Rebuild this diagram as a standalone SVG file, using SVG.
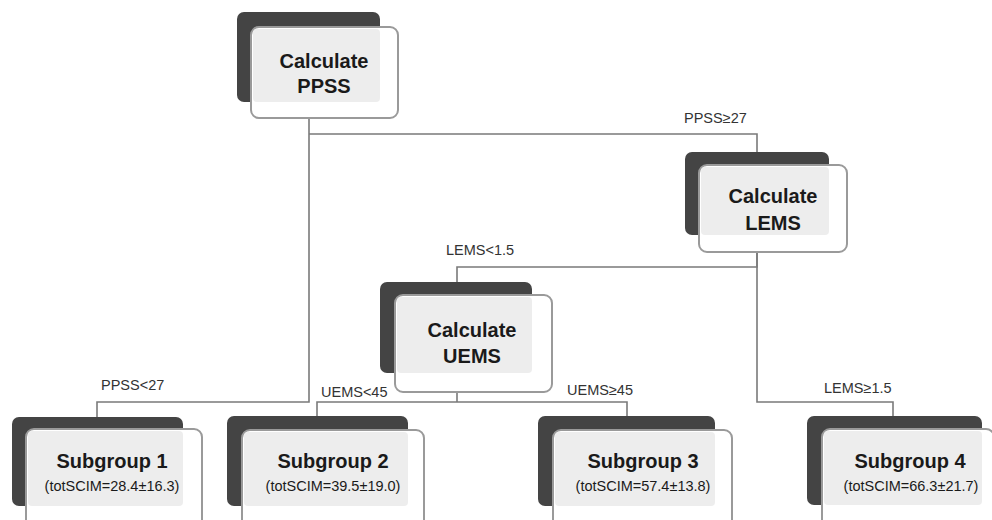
<svg xmlns="http://www.w3.org/2000/svg" width="992" height="520" viewBox="0 0 992 520">
<style>
.dark{fill:#444444;}
.front{fill:#ffffff;stroke:#9a9a9a;stroke-width:2;}
.shade{fill:#ededed;}
.title{font-family:"Liberation Sans",Arial,sans-serif;font-weight:bold;font-size:20px;fill:#1a1a1a;text-anchor:middle;}
.sub{font-family:"Liberation Sans",Arial,sans-serif;font-size:14.5px;fill:#1a1a1a;text-anchor:middle;}
.lbl{font-family:"Liberation Sans",Arial,sans-serif;font-size:14.5px;fill:#333333;}
.conn{fill:none;stroke:#7a7a7a;stroke-width:1.6;}
</style>
<rect width="992" height="520" fill="#ffffff"/>
<g id="connectors">
<path class="conn" d="M309,118 V402 H97 V417"/>
<path class="conn" d="M309,134 H757 V152"/>
<path class="conn" d="M757,252 V267 H457 V282"/>
<path class="conn" d="M757,252 V402 H893 V416"/>
<path class="conn" d="M457,392 V402"/>
<path class="conn" d="M317,416 V402 H627 V416"/>
<text class="lbl" x="684" y="123">PPSS≥27</text>
<text class="lbl" x="446" y="255">LEMS&lt;1.5</text>
<text class="lbl" x="101" y="390">PPSS&lt;27</text>
<text class="lbl" x="321" y="397">UEMS&lt;45</text>
<text class="lbl" x="567" y="395">UEMS≥45</text>
<text class="lbl" x="824" y="393">LEMS≥1.5</text>
</g>
<g id="ppss">
<rect class="dark" x="237" y="12" width="143" height="90" rx="7"/>
<rect class="front" x="251" y="27" width="147" height="91" rx="8"/>
<rect class="shade" x="253" y="29" width="127" height="73" rx="4"/>
<text class="title" x="324" y="68">Calculate</text>
<text class="title" x="324" y="93">PPSS</text>
</g>
<g id="lems">
<rect class="dark" x="685" y="152" width="144" height="83" rx="7"/>
<rect class="front" x="699" y="165" width="148" height="87" rx="8"/>
<rect class="shade" x="701" y="167" width="128" height="68" rx="4"/>
<text class="title" x="773" y="203">Calculate</text>
<text class="title" x="773" y="230">LEMS</text>
</g>
<g id="uems">
<rect class="dark" x="380" y="282" width="152" height="91" rx="7"/>
<rect class="front" x="395" y="295" width="157" height="97" rx="8"/>
<rect class="shade" x="397" y="297" width="135" height="76" rx="4"/>
<text class="title" x="472" y="337">Calculate</text>
<text class="title" x="472" y="363">UEMS</text>
</g>
<g id="subgroup1">
<rect class="dark" x="12" y="417" width="171" height="89" rx="7"/>
<rect class="front" x="26" y="429" width="176" height="100" rx="8"/>
<rect class="shade" x="28" y="431" width="155" height="75" rx="4"/>
<text class="title" x="112" y="468">Subgroup 1</text>
<text class="sub" x="112" y="491">(totSCIM=28.4±16.3)</text>
</g>
<g id="subgroup2">
<rect class="dark" x="227" y="416" width="181" height="90" rx="7"/>
<rect class="front" x="242" y="430" width="182" height="100" rx="8"/>
<rect class="shade" x="244" y="432" width="164" height="74" rx="4"/>
<text class="title" x="333" y="468">Subgroup 2</text>
<text class="sub" x="333" y="491">(totSCIM=39.5±19.0)</text>
</g>
<g id="subgroup3">
<rect class="dark" x="538" y="416" width="177" height="90" rx="7"/>
<rect class="front" x="553" y="430" width="179" height="100" rx="8"/>
<rect class="shade" x="555" y="432" width="160" height="74" rx="4"/>
<text class="title" x="643" y="468">Subgroup 3</text>
<text class="sub" x="643" y="491">(totSCIM=57.4±13.8)</text>
</g>
<g id="subgroup4">
<rect class="dark" x="807" y="416" width="175" height="89" rx="7"/>
<rect class="front" x="822" y="429" width="172" height="100" rx="8"/>
<rect class="shade" x="824" y="431" width="158" height="74" rx="4"/>
<text class="title" x="910" y="468">Subgroup 4</text>
<text class="sub" x="911" y="491">(totSCIM=66.3±21.7)</text>
</g>
</svg>
